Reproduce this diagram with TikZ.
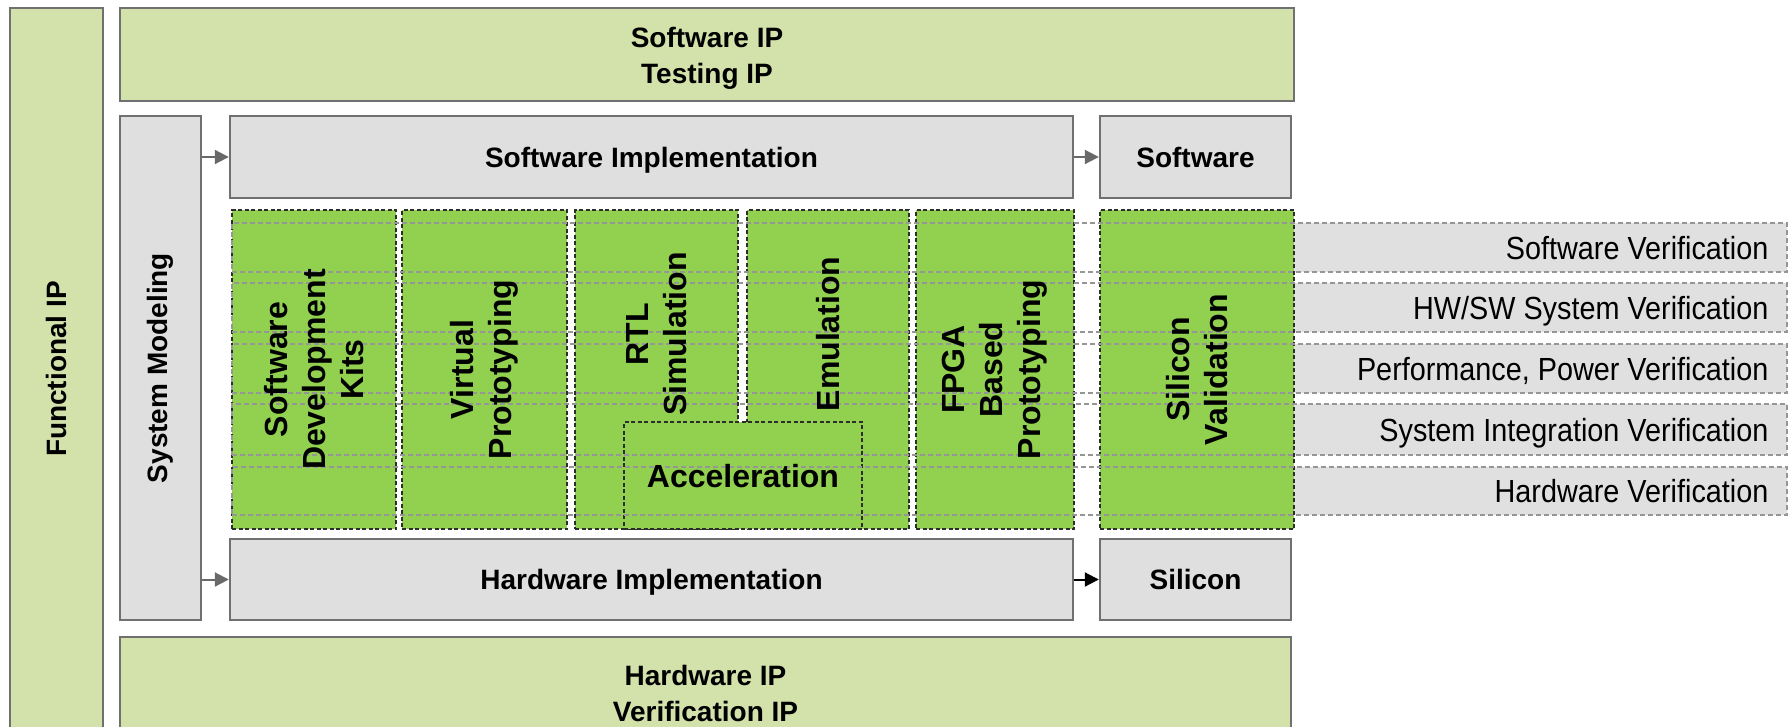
\documentclass[tikz,border=0pt]{standalone}
\usepackage{fontspec}
\setmainfont{Liberation Sans}
\newfontfamily\narrowfont[FakeStretch=0.9]{Liberation Sans}
\usetikzlibrary{arrows.meta}
\definecolor{ipgreen}{RGB}{211,226,170}
\definecolor{boxgray}{RGB}{223,223,223}
\definecolor{linegray}{RGB}{112,112,112}
\definecolor{brightgreen}{RGB}{146,208,80}
\definecolor{bandgray}{RGB}{224,224,224}
\definecolor{banddash}{RGB}{150,150,150}
\definecolor{greendash}{RGB}{45,45,45}
\definecolor{arrowgray}{RGB}{105,105,105}
\begin{document}
\begin{tikzpicture}[x=1pt,y=-1pt,
  ipbox/.style={draw=linegray, fill=ipgreen, line width=2.4pt, inner sep=0pt},
  graybox/.style={draw=linegray, fill=boxgray, line width=2.4pt, inner sep=0pt},
  colbox/.style={draw=greendash, fill=brightgreen, line width=1.3pt, dash pattern=on 4pt off 2.5pt, inner sep=0pt},
  bandfill/.style={fill=bandgray, inner sep=0pt},
  bandline/.style={draw=banddash, line width=1.2pt, dash pattern=on 5pt off 3pt, inner sep=0pt},
  boldlab/.style={font=\fontsize{28}{36}\selectfont\bfseries, align=center},
  capc/.style={text height=20pt, text depth=0pt},
  collab/.style={font=\fontsize{32}{38}\selectfont\bfseries, align=center, rotate=90, inner sep=0pt},
  verlab/.style={font=\fontsize{32}{38}\selectfont\narrowfont, anchor=base east, inner sep=0pt},
  arr/.style={line width=2pt, -{Triangle[length=14pt,width=14pt]}},
]
\useasboundingbox (0,0) rectangle (1791,726);
\fill[white] (0,0) rectangle (1791,726);

% outer IP boxes
\node[ipbox, minimum width=93pt, minimum height=722pt] (fip) at (56.5,369) {};
\node[boldlab, rotate=90] (fiplab) at (fip.center) {Functional IP};
\node[ipbox, minimum width=1174pt, minimum height=93pt] (swip) at (707,54.5) {};
\node[boldlab] (swiplab) at ([yshift=-4pt]swip.center) {Software IP\\Testing IP};
\node[ipbox, minimum width=1171pt, minimum height=108pt] (hwip) at (705.5,691) {};
\node[boldlab] (hwiplab) at ([yshift=-2pt]hwip.center) {Hardware IP\\Verification IP};

% system modeling and implementation boxes
\node[graybox, minimum width=81pt, minimum height=504pt] (sysmod) at (160.5,368) {};
\node[boldlab, rotate=90] (sysmodlab) at (sysmod.center) {System Modeling};
\node[graybox, boldlab, capc, minimum width=843pt, minimum height=82pt] (swimpl) at (651.5,157) {Software Implementation};
\node[graybox, boldlab, capc, minimum width=191pt, minimum height=82pt] (sw) at (1195.5,157) {Software};
\node[graybox, boldlab, capc, minimum width=843pt, minimum height=81pt] (hwimpl) at (651.5,579.5) {Hardware Implementation};
\node[graybox, boldlab, capc, minimum width=191pt, minimum height=81pt] (si) at (1195.5,579.5) {Silicon};

% verification band fills
\node[bandfill, minimum width=493pt, minimum height=49pt] (b1f) at (1540.5,247.5) {};
\node[bandfill, minimum width=493pt, minimum height=49pt] (b2f) at (1540.5,307.5) {};
\node[bandfill, minimum width=493pt, minimum height=49pt] (b3f) at (1540.5,368.5) {};
\node[bandfill, minimum width=493pt, minimum height=51pt] (b4f) at (1540.5,429.5) {};
\node[bandfill, minimum width=493pt, minimum height=48pt] (b5f) at (1540.5,491) {};

% green columns
\node[colbox, minimum width=164pt, minimum height=319pt] (sdk) at (314,369.5) {};
\node[colbox, minimum width=165pt, minimum height=319pt] (vp) at (484.5,369.5) {};
\node[colbox, minimum width=163pt, minimum height=319pt] (rtl) at (656.5,369.5) {};
\node[colbox, minimum width=162pt, minimum height=319pt] (emu) at (828,369.5) {};
\node[colbox, minimum width=158pt, minimum height=319pt] (fpga) at (995,369.5) {};
\node[colbox, minimum width=194pt, minimum height=319pt] (sv) at (1197,369.5) {};
\node[colbox, minimum width=238pt, minimum height=107pt] (accel) at (743,475.5) {};

% verification band outlines
\node[bandline, minimum width=1555pt, minimum height=49pt] (b1) at (1009.5,247.5) {};
\node[bandline, minimum width=1555pt, minimum height=49pt] (b2) at (1009.5,307.5) {};
\node[bandline, minimum width=1555pt, minimum height=49pt] (b3) at (1009.5,368.5) {};
\node[bandline, minimum width=1555pt, minimum height=51pt] (b4) at (1009.5,429.5) {};
\node[bandline, minimum width=1555pt, minimum height=48pt] (b5) at (1009.5,491) {};

% labels
\node[collab] (sdklab) at (sdk.center) {Software\\Development\\Kits};
\node[collab] (vplab) at (vp.center) {Virtual\\Prototyping};
\node[collab] (rtllab) at (656.5,334) {RTL\\Simulation};
\node[collab] (emulab) at (828,334) {Emulation};
\node[collab] (fpgalab) at (fpga.center) {FPGA\\Based\\Prototyping};
\node[collab] (svlab) at (sv.center) {Silicon\\Validation};
\node[font=\fontsize{32}{38}\selectfont\bfseries, inner sep=0pt, text height=23pt, text depth=0pt] (accellab) at (accel.center) {Acceleration};

\node[verlab] (v1) at ([xshift=-19pt,yshift=-11.5pt]b1.east) {Software Verification};
\node[verlab] (v2) at ([xshift=-19pt,yshift=-11.5pt]b2.east) {HW/SW System Verification};
\node[verlab] (v3) at ([xshift=-19pt,yshift=-11.5pt]b3.east) {Performance, Power Verification};
\node[verlab] (v4) at ([xshift=-19pt,yshift=-11.5pt]b4.east) {System Integration Verification};
\node[verlab] (v5) at ([xshift=-19pt,yshift=-11.5pt]b5.east) {Hardware Verification};

% arrows
\draw[arr, draw=arrowgray, fill=arrowgray] (sysmod.east |- swimpl.west) -- (swimpl.west);
\draw[arr, draw=arrowgray, fill=arrowgray] (sysmod.east |- hwimpl.west) -- (hwimpl.west);
\draw[arr, draw=arrowgray, fill=arrowgray] (swimpl.east) -- (sw.west);
\draw[arr, draw=black, fill=black] (hwimpl.east) -- (si.west);
\end{tikzpicture}
\end{document}
